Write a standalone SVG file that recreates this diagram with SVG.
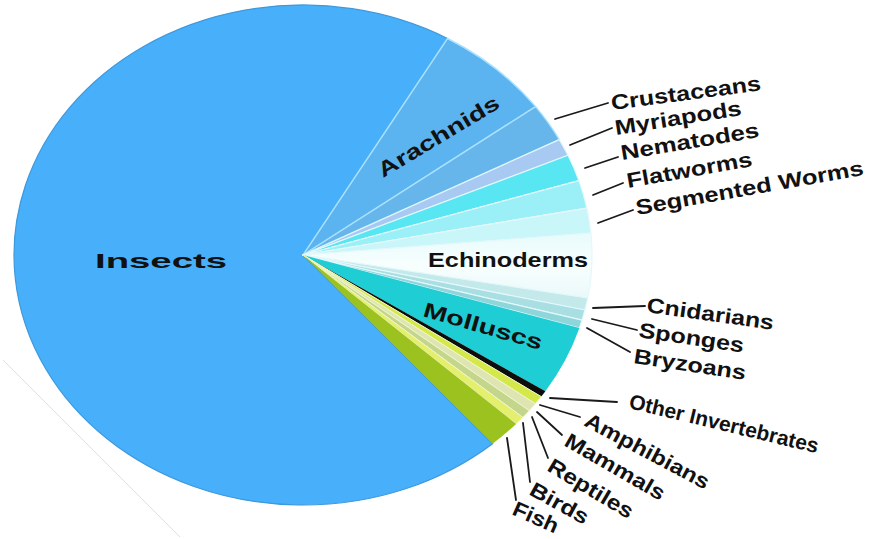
<svg xmlns="http://www.w3.org/2000/svg" width="871" height="539" viewBox="0 0 871 539">
  <style>
    .lbl { font-family: "Liberation Sans", Arial, sans-serif; font-weight: bold; fill: #111; font-size: 21px; }
    .lead { stroke: #1a1a1a; stroke-width: 1.8; fill: none; stroke-linecap: round; }
    .edgeB { stroke: #a9e2ff; stroke-width: 1.4; stroke-linejoin: round; }
    .edgeL { stroke: #e4f8fb; stroke-width: 1.2; stroke-linejoin: round; }
    .edgeY { stroke: #eef5c8; stroke-width: 1; stroke-linejoin: round; }
  </style>
  <defs>
    <linearGradient id="echinoFill" x1="0" y1="0" x2="0" y2="1">
      <stop offset="0" stop-color="#e8fbfc"/>
      <stop offset="0.5" stop-color="#f8fefe"/>
      <stop offset="1" stop-color="#eaf9fa"/>
    </linearGradient>
  </defs>

  <rect width="871" height="539" fill="#ffffff"/>
  <line x1="3" y1="360" x2="180" y2="537" stroke="#e6dcd8" stroke-width="1"/>

  <!-- pie slices: centre (303,255), rx 289, ry 250 -->
  <g id="slice-insects">
    <path d="M303,255 L492.6,443.7 A289,250 0 1 1 447.5,38.5 Z" fill="#48b0fa" stroke="#3d98dc" stroke-width="1.2"/>
  </g>
  <g id="slice-arachnids">
    <path class="edgeB" d="M303,255 L447.5,38.5 A289,250 0 0 1 535.6,106.6 Z" fill="#5bb3f0"/>
  </g>
  <g id="slice-crustaceans">
    <path class="edgeB" d="M303,255 L535.6,106.6 A289,250 0 0 1 559.3,139.6 Z" fill="#66b6ec"/>
  </g>
  <g id="slice-myriapods">
    <path class="edgeL" d="M303,255 L559.3,139.6 A289,250 0 0 1 568.0,155.3 Z" fill="#a8c9f2"/>
  </g>
  <g id="slice-nematodes">
    <path class="edgeL" d="M303,255 L568.0,155.3 A289,250 0 0 1 578.9,180.6 Z" fill="#58e6f3"/>
  </g>
  <g id="slice-flatworms">
    <path class="edgeL" d="M303,255 L578.9,180.6 A289,250 0 0 1 586.9,208.2 Z" fill="#9af0f6"/>
  </g>
  <g id="slice-segmented-worms">
    <path class="edgeL" d="M303,255 L586.9,208.2 A289,250 0 0 1 590.9,233.2 Z" fill="#c9f6f9"/>
  </g>
  <g id="slice-echinoderms">
    <path class="edgeL" d="M303,255 L590.9,233.2 A289,250 0 0 1 587.7,298.0 Z" fill="url(#echinoFill)"/>
  </g>
  <g id="slice-cnidarians">
    <path class="edgeL" d="M303,255 L587.7,298.0 A289,250 0 0 1 584.9,310.0 Z" fill="#c4e9eb"/>
  </g>
  <g id="slice-sponges">
    <path class="edgeL" d="M303,255 L584.9,310.0 A289,250 0 0 1 582.0,320.1 Z" fill="#a9dfe2"/>
  </g>
  <g id="slice-bryzoans">
    <path class="edgeL" d="M303,255 L582.0,320.1 A289,250 0 0 1 579.4,328.1 Z" fill="#8fd6da"/>
  </g>
  <g id="slice-molluscs">
    <path d="M303,255 L579.4,328.1 A289,250 0 0 1 545.4,391.2 Z" fill="#1fcdd5"/>
  </g>
  <g id="slice-other-invertebrates">
    <path d="M303,255 L545.4,391.2 A289,250 0 0 1 541.2,396.6 Z" fill="#0d0d0d"/>
  </g>
  <g id="slice-amphibians">
    <path class="edgeY" d="M303,255 L541.2,396.6 A289,250 0 0 1 535.3,403.7 Z" fill="#d5e84a"/>
  </g>
  <g id="slice-mammals">
    <path class="edgeY" d="M303,255 L535.3,403.7 A289,250 0 0 1 529.2,410.6 Z" fill="#dfe5b2"/>
  </g>
  <g id="slice-reptiles">
    <path class="edgeY" d="M303,255 L529.2,410.6 A289,250 0 0 1 522.8,417.4 Z" fill="#c4d58c"/>
  </g>
  <g id="slice-birds">
    <path class="edgeY" d="M303,255 L522.8,417.4 A289,250 0 0 1 516.1,423.9 Z" fill="#e5ef6e"/>
  </g>
  <g id="slice-fish">
    <path d="M303,255 L516.1,423.9 A289,250 0 0 1 492.6,443.7 Z" fill="#9bc21e"/>
  </g>

  <!-- leader lines from slices to outside labels -->
  <g id="connectors">
    <line class="lead" x1="555" y1="119" x2="608" y2="103"/>
    <line class="lead" x1="570" y1="145" x2="612" y2="128"/>
    <line class="lead" x1="585" y1="168" x2="618" y2="157"/>
    <line class="lead" x1="593" y1="195" x2="623" y2="183"/>
    <line class="lead" x1="598" y1="223" x2="633" y2="210"/>
    <line class="lead" x1="593" y1="308" x2="645" y2="306"/>
    <line class="lead" x1="592" y1="319" x2="637" y2="330"/>
    <line class="lead" x1="587" y1="328" x2="630" y2="352"/>
    <line class="lead" x1="550" y1="398" x2="617" y2="402"/>
    <line class="lead" x1="540" y1="405" x2="580" y2="417"/>
    <line class="lead" x1="537" y1="412" x2="562" y2="435"/>
    <line class="lead" x1="532" y1="417" x2="548" y2="458"/>
    <line class="lead" x1="523" y1="423" x2="530" y2="482"/>
    <line class="lead" x1="507" y1="438" x2="516" y2="500"/>
  </g>

  <!-- labels -->
  <g id="labels">
    <text class="lbl" transform="translate(95,268)" font-size="32" textLength="132" lengthAdjust="spacingAndGlyphs">Insects</text>
    <text class="lbl" transform="translate(383,178) rotate(-31)" font-size="23" textLength="138" lengthAdjust="spacingAndGlyphs">Arachnids</text>
    <text class="lbl" transform="translate(428,267)" font-size="20" textLength="160" lengthAdjust="spacingAndGlyphs">Echinoderms</text>
    <text class="lbl" transform="translate(422,316) rotate(16)" font-size="22" textLength="123" lengthAdjust="spacingAndGlyphs">Molluscs</text>
    <text class="lbl" transform="translate(612,110) rotate(-7.5)" textLength="151" lengthAdjust="spacingAndGlyphs">Crustaceans</text>
    <text class="lbl" transform="translate(616,135) rotate(-9)" textLength="128" lengthAdjust="spacingAndGlyphs">Myriapods</text>
    <text class="lbl" transform="translate(622,160) rotate(-9.5)" textLength="140" lengthAdjust="spacingAndGlyphs">Nematodes</text>
    <text class="lbl" transform="translate(628,188) rotate(-10)" textLength="127" lengthAdjust="spacingAndGlyphs">Flatworms</text>
    <text class="lbl" transform="translate(637,215) rotate(-10)" textLength="231" lengthAdjust="spacingAndGlyphs">Segmented Worms</text>
    <text class="lbl" transform="translate(646,312) rotate(8)" textLength="128" lengthAdjust="spacingAndGlyphs">Cnidarians</text>
    <text class="lbl" transform="translate(638,337) rotate(8.5)" textLength="106" lengthAdjust="spacingAndGlyphs">Sponges</text>
    <text class="lbl" transform="translate(633,363) rotate(8.6)" textLength="113" lengthAdjust="spacingAndGlyphs">Bryzoans</text>
    <text class="lbl" transform="translate(628,408) rotate(13.5)" font-size="16" textLength="194" lengthAdjust="spacingAndGlyphs">Other Invertebrates</text>
    <text class="lbl" transform="translate(583,425) rotate(28)" textLength="138" lengthAdjust="spacingAndGlyphs">Amphibians</text>
    <text class="lbl" transform="translate(563,445) rotate(30)" textLength="112" lengthAdjust="spacingAndGlyphs">Mammals</text>
    <text class="lbl" transform="translate(546,470) rotate(31)" textLength="96" lengthAdjust="spacingAndGlyphs">Reptiles</text>
    <text class="lbl" transform="translate(528,494) rotate(29)" textLength="64" lengthAdjust="spacingAndGlyphs">Birds</text>
    <text class="lbl" transform="translate(511,514) rotate(24)" font-size="20" textLength="48" lengthAdjust="spacingAndGlyphs">Fish</text>
  </g>
</svg>
